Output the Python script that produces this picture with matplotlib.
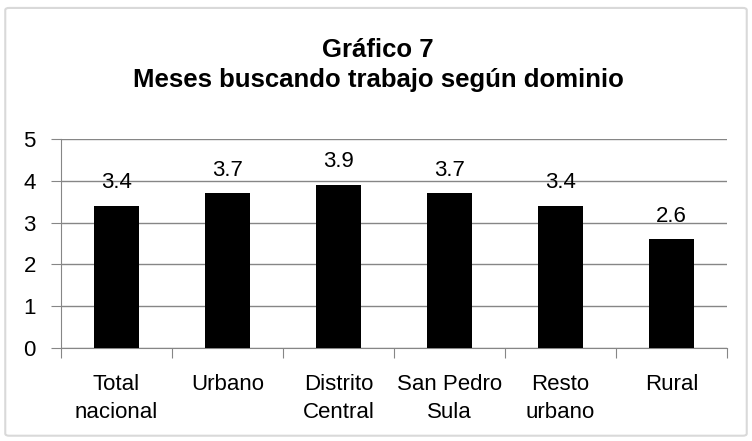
import matplotlib.pyplot as plt
from matplotlib.patches import FancyBboxPatch
import numpy as np

categorias = ['Total\nnacional', 'Urbano', 'Distrito\nCentral', 'San Pedro\nSula', 'Resto\nurbano', 'Rural']
meses = [3.4, 3.7, 3.9, 3.7, 3.4, 2.6]

plt.rcParams['font.family'] = ['Liberation Sans Narrow', 'Liberation Sans', 'DejaVu Sans']

fig = plt.figure(figsize=(7.52, 4.41), dpi=100)
ax = fig.add_axes([0.081, 0.211, 0.886, 0.474])

# marco exterior
marco = FancyBboxPatch((0.007, 0.012), 0.986, 0.97, boxstyle='round,pad=0,rounding_size=0.005',
                       transform=fig.transFigure, facecolor='white', edgecolor='#d9d9d9', lw=1.5, zorder=-1)
fig.patches.append(marco)

x = np.arange(len(categorias))
ax.bar(x, meses, width=0.4, color='black', zorder=3)
for xi, v in zip(x, meses):
    ax.text(xi, v + 0.3, f'{v:.1f}', ha='center', va='bottom', fontsize=16)

ax.set_xlim(-0.5, len(categorias) - 0.5)
ax.set_ylim(0, 5)
ax.set_yticks(range(6))
ax.yaxis.grid(True, color='#868686', lw=1, zorder=0)
ax.set_xticks(np.arange(-0.5, len(categorias)), minor=False)
ax.set_xticklabels([])
ax.set_xticks(x, minor=True)
ax.set_xticklabels(categorias, minor=True, fontsize=16, linespacing=1.4)
ax.tick_params(axis='x', which='minor', length=0, pad=19)
ax.tick_params(axis='x', which='major', length=7, color='#868686')
ax.tick_params(axis='y', length=7, color='#868686', labelsize=16, pad=11)
for s in ['top', 'right']:
    ax.spines[s].set_visible(False)
for s in ['left', 'bottom']:
    ax.spines[s].set_color('#868686')

fig.text(0.503, 0.853, 'Gráfico 7\nMeses buscando trabajo según dominio', ha='center', va='center',
         fontsize=18.5, fontweight='bold', linespacing=1.3)

plt.savefig('out.png', dpi=100)
